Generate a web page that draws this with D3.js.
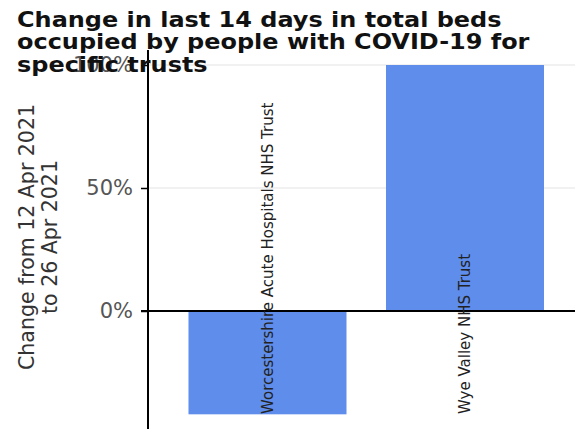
<!DOCTYPE html>
<html><head><meta charset="utf-8">
<script src="https://cdn.jsdelivr.net/npm/d3@7"></script>
<style>body{margin:0;background:#fff}svg{display:block}</style>
</head><body>
<script>
const categories = ["Worcestershire Acute Hospitals NHS Trust", "Wye Valley NHS Trust"];
const values = [-0.42, 1.00];
const yTicks = [0, 0.5, 1.0];
const titleLines = ["Change in last 14 days in total beds", "occupied by people with COVID-19 for", "specific trusts"];
const yLabelLines = ["Change from 12 Apr 2021", "to 26 Apr 2021"];

const W = 575, H = 429;
const svg = d3.select("body").append("svg").attr("width", W).attr("height", H);
const font = "DejaVu Sans";

const x = d3.scaleLinear().domain([-0.605, 1.557]).range([148, 575]);
const y = d3.scaleLinear().domain([-0.4797, 1.061]).range([429, 50]);
const barW = 0.8;

// grid
svg.append("g").selectAll("line").data(yTicks.filter(d => d !== 0)).join("line")
  .attr("x1", 148).attr("x2", W).attr("y1", d => y(d)).attr("y2", d => y(d))
  .attr("stroke", "#ececec").attr("stroke-width", 1.5);

// bars
svg.append("g").selectAll("rect").data(values).join("rect")
  .attr("x", (d, i) => x(i - barW / 2))
  .attr("width", (d, i) => x(i + barW / 2) - x(i - barW / 2))
  .attr("y", d => y(Math.max(0, d)))
  .attr("height", d => Math.abs(y(d) - y(0)))
  .attr("fill", "#5f8deb");

// y axis
const yAxis = d3.axisLeft(y).tickValues(yTicks).tickFormat(d3.format(".0%")).tickSize(7).tickPadding(8);
const gy = svg.append("g").attr("transform", "translate(148,0)").call(yAxis);
gy.select(".domain").attr("stroke", "#000").attr("stroke-width", 2).attr("d", `M0,${y(1.061)}V${H}`);
gy.selectAll(".tick line").attr("stroke", "#000").attr("stroke-width", 1.5);
gy.selectAll(".tick text").attr("font-family", font).attr("font-size", 21).attr("fill", "#555");

// zero line
svg.append("line").attr("x1", 141).attr("x2", W).attr("y1", y(0)).attr("y2", y(0))
  .attr("stroke", "#000").attr("stroke-width", 2);

// category labels (rotated, inside plot)
svg.append("g").selectAll("text").data(categories).join("text")
  .attr("transform", (d, i) => `translate(${x(i)},414) rotate(-90)`)
  .attr("text-anchor", "start").attr("dy", "0.35em")
  .attr("font-family", font).attr("font-size", 15).attr("fill", "#222")
  .text(d => d);

// y label
svg.append("g").selectAll("text").data(yLabelLines).join("text")
  .attr("transform", (d, i) => `translate(${27 + i * 23},237) rotate(-90)`)
  .attr("text-anchor", "middle").attr("dy", "0.35em")
  .attr("font-family", font).attr("font-size", 20.5).attr("fill", "#333")
  .text(d => d);

// title (slightly wide, as in the reference)
svg.append("g").attr("transform", "translate(17,0) scale(1.11,1)")
  .selectAll("text").data(titleLines).join("text")
  .attr("x", 0).attr("y", (d, i) => 27 + i * 22.3)
  .attr("font-family", font).attr("font-weight", "bold").attr("font-size", 21.6).attr("fill", "#111")
  .text(d => d);
</script>
</body></html>
